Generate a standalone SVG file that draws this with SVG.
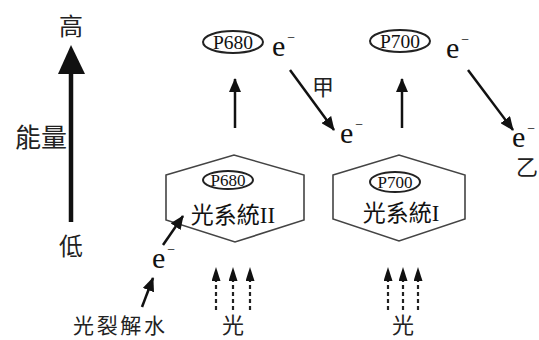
<svg xmlns="http://www.w3.org/2000/svg" width="539" height="340" viewBox="0 0 539 340">
<style>
.t{font-family:"Liberation Serif","Noto Sans CJK TC",serif;fill:#111}
.cjk{font-family:"Noto Sans CJK TC","Liberation Serif",sans-serif;fill:#222}
.hex{fill:none;stroke:#444;stroke-width:1.6}
.ell{fill:none;stroke:#222;stroke-width:2}
.arr{stroke:#111;stroke-width:2.5;fill:none}
.dash{stroke:#222;stroke-width:2.2;stroke-dasharray:4 3;fill:none}
</style>
<defs>
<marker id="ah" markerUnits="userSpaceOnUse" markerWidth="14" markerHeight="12" viewBox="0 0 14 12" refX="13" refY="6" orient="auto">
<path d="M0,0 L14,6 L0,12 z" fill="#111"/>
</marker>
<marker id="dh" markerUnits="userSpaceOnUse" markerWidth="14" markerHeight="9" viewBox="0 0 14 9" refX="0" refY="4.5" orient="auto">
<path d="M0,0 L14,4.5 L0,9 z" fill="#111"/>
</marker>
</defs>
<rect width="539" height="340" fill="#fff"/>

<g id="energy-axis">
<line x1="71" y1="222" x2="71" y2="72" stroke="#111" stroke-width="4.5"/>
<polygon points="71,45 58,74 85,74" fill="#111"/>
<text class="cjk" x="71" y="35" font-size="24" text-anchor="middle">高</text>
<text class="cjk" x="15" y="147" font-size="26">能量</text>
<text class="cjk" x="71" y="255" font-size="24" text-anchor="middle">低</text>
</g>

<g id="psII">
<polygon class="hex" points="166,175 234,155 304,175 304,220 235,242 166,220"/>
<ellipse class="ell" cx="228" cy="180" rx="25" ry="9"/>
<text class="t" x="228" y="186" font-size="17" text-anchor="middle">P680</text>
<text class="t" x="233" y="223" font-size="23" text-anchor="middle">光系統II</text>
</g>

<g id="psI">
<polygon class="hex" points="333,175 399,155 465,175 465,219 399,241 333,219"/>
<ellipse class="ell" cx="395" cy="182" rx="25" ry="10"/>
<text class="t" x="395" y="188" font-size="17" text-anchor="middle">P700</text>
<text class="t" x="401" y="221" font-size="23" text-anchor="middle">光系統I</text>
</g>

<g id="p680-top">
<ellipse class="ell" cx="233" cy="42" rx="30" ry="11"/>
<text class="t" x="233" y="48.5" font-size="19.5" text-anchor="middle">P680</text>
</g>

<g id="p700-top">
<ellipse class="ell" cx="400" cy="41" rx="30" ry="11"/>
<text class="t" x="400" y="47.5" font-size="19.5" text-anchor="middle">P700</text>
</g>

<g id="electrons">
<text class="t" x="272" y="56" font-size="30">e<tspan dx="2" dy="-14" font-size="14">−</tspan></text>
<text class="t" x="340" y="143" font-size="30">e<tspan dx="2" dy="-14" font-size="14">−</tspan></text>
<text class="t" x="446" y="58" font-size="30">e<tspan dx="2" dy="-14" font-size="14">−</tspan></text>
<text class="t" x="512" y="147" font-size="30">e<tspan dx="2" dy="-14" font-size="14">−</tspan></text>
<text class="t" x="152" y="268" font-size="30">e<tspan dx="2" dy="-14" font-size="14">−</tspan></text>
</g>

<g id="labels">
<text class="cjk" x="323" y="95" font-size="22" text-anchor="middle">甲</text>
<text class="cjk" x="527" y="175" font-size="22" text-anchor="middle">乙</text>
<text class="cjk" x="73" y="333" font-size="21" textLength="92">光裂解水</text>
<text class="cjk" x="233" y="333" font-size="22" text-anchor="middle">光</text>
<text class="cjk" x="403" y="333" font-size="22" text-anchor="middle">光</text>
</g>

<g id="connectors">
<line class="arr" x1="235" y1="128" x2="235" y2="79" marker-end="url(#ah)"/>
<line class="arr" x1="402" y1="128" x2="402" y2="79" marker-end="url(#ah)"/>
<line class="arr" x1="290" y1="70" x2="334" y2="130" marker-end="url(#ah)"/>
<line class="arr" x1="468" y1="70" x2="513" y2="130" marker-end="url(#ah)"/>
<line class="arr" x1="163" y1="245" x2="183" y2="216" marker-end="url(#ah)"/>
<line class="arr" x1="142" y1="307" x2="153" y2="278" marker-end="url(#ah)"/>
<line class="dash" x1="216" y1="310" x2="216" y2="281" marker-end="url(#dh)"/>
<line class="dash" x1="233" y1="310" x2="233" y2="281" marker-end="url(#dh)"/>
<line class="dash" x1="250" y1="310" x2="250" y2="281" marker-end="url(#dh)"/>
<line class="dash" x1="388" y1="310" x2="388" y2="281" marker-end="url(#dh)"/>
<line class="dash" x1="403" y1="310" x2="403" y2="281" marker-end="url(#dh)"/>
<line class="dash" x1="418" y1="310" x2="418" y2="281" marker-end="url(#dh)"/>
</g>
</svg>
